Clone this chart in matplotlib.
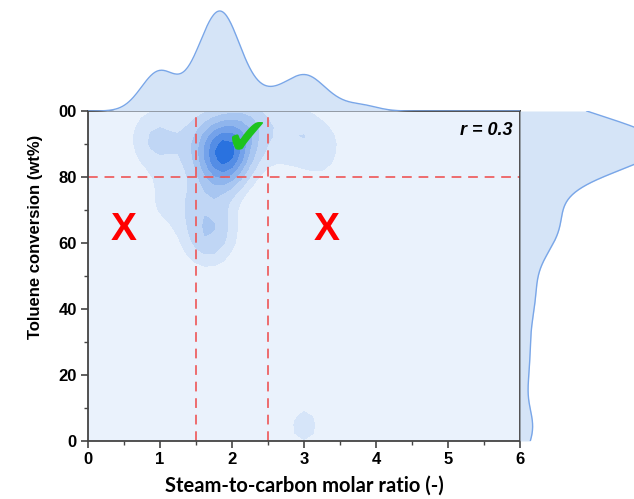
import matplotlib
matplotlib.use("Agg")
import matplotlib.pyplot as plt
import numpy as np

# measured runs: steam-to-carbon ratio vs toluene conversion
steam_ratio = [1.85, 1.9, 1.9, 1.9, 1.95, 1.88, 1.92, 1.9, 1.85, 1.95, 1.9,
               1.65, 1.7, 2.1, 2.15,
               1.65, 1.75, 1.8, 1.7, 1.55,
               0.8, 0.9, 1.0, 1.1, 1.15, 1.0, 0.9, 1.05,
               1.55, 1.5, 1.55,
               2.3, 2.25,
               3.0, 3.0, 2.75, 3.25, 3.4, 2.65, 3.1,
               3.0, 3.0,
               3.8, 2.6]
conversion = [82, 84, 85, 85, 86, 86, 87, 88, 88, 90, 91,
              93, 76, 95, 94,
              65, 62, 67, 59, 61,
              90, 96, 88, 92, 76, 70, 45, 30,
              88, 72, 98,
              97, 96,
              92, 93, 99, 82, 91, 86, 20,
              3, 5,
              40, 52]

x_ticks = [0, 1, 2, 3, 4, 5, 6]
y_ticks = [0, 20, 40, 60, 80, 100]
y_ticklabels = ["0", "20", "40", "60", "80", "00"]
r_text = "r = 0.3"

xs = np.array(steam_ratio, dtype=float)
ys = np.array(conversion, dtype=float)


def kde1d(pts, grid, h):
    d = (grid[:, None] - pts[None, :]) / h
    return np.exp(-0.5 * d ** 2).sum(axis=1) / (len(pts) * h * np.sqrt(2 * np.pi))


def kde2d(px, py, gx, gy, hx, hy):
    dx = (gx[..., None] - px) / hx
    dy = (gy[..., None] - py) / hy
    return np.exp(-0.5 * (dx ** 2 + dy ** 2)).sum(axis=-1) / (len(px) * hx * hy * 2 * np.pi)


W, H = 634, 499
fig = plt.figure(figsize=(W / 100, H / 100), dpi=100)
ax = fig.add_axes([88 / W, 58 / H, 432 / W, 330 / H])
ax_top = fig.add_axes([88 / W, 388 / H, 432 / W, 111 / H])
ax_right = fig.add_axes([520 / W, 58 / H, 150 / W, 330 / H])

# joint density
gx, gy = np.meshgrid(np.linspace(0, 6, 49), np.linspace(0, 100, 41))
z = kde2d(xs, ys, gx, gy, 0.25, 6.5)
z = z / z.max()
levels = [0.14, 0.25, 0.38, 0.51, 0.64, 0.77, 0.9, 1.01]
colors = ["#d6e5f9", "#c0d6f5", "#a8c6f1", "#8fb5ed", "#74a2ea", "#548de5", "#2a72df"]
ax.set_facecolor("#eaf2fc")
ax.contourf(gx, gy, z, levels=levels, colors=colors)

# threshold lines
dash = dict(color="#ee5555", lw=1.4, ls=(0, (5, 3.5)), alpha=0.85)
ax.axvline(1.5, **dash)
ax.axvline(2.5, **dash)
ax.axhline(80, **dash)

ax.text(0.49, 64, "X", color="red", fontsize=28, fontweight="bold",
        family="Liberation Sans", ha="center", va="center")
ax.text(3.32, 64, "X", color="red", fontsize=28, fontweight="bold",
        family="Liberation Sans", ha="center", va="center")
ax.text(2.2, 91, "\u2714", color="#1ec31e", fontsize=37, ha="center", va="center")
ax.text(5.9, 94, r_text, fontsize=13, fontweight="bold", style="italic",
        family="Liberation Sans", ha="right", va="center")

ax.set_xlim(0, 6)
ax.set_ylim(0, 100)
ax.set_xticks(x_ticks)
ax.set_yticks(y_ticks)
ax.set_yticklabels(y_ticklabels)
ax.set_xticks(np.arange(0.5, 6, 1), minor=True)
ax.set_yticks(np.arange(10, 100, 20), minor=True)
ax.tick_params(which="major", direction="out", length=5, width=1.2, color="#444444",
               labelsize=12, pad=3)
ax.tick_params(which="minor", direction="out", length=3, width=1.0, color="#444444")
for lab in ax.get_xticklabels() + ax.get_yticklabels():
    lab.set_fontweight("bold")
    lab.set_family("Liberation Sans")
for sp in ax.spines.values():
    sp.set_color("#444444")
    sp.set_linewidth(1.3)

ax.set_xlabel("Steam-to-carbon molar ratio (-)", fontsize=14.5, fontweight="bold",
              family="Lato", labelpad=6)
ax.set_ylabel("Toluene conversion (wt%)", fontsize=12, fontweight="bold",
              family="Liberation Sans")
ax.yaxis.set_label_coords(-0.105, 0.62)

# marginal densities
fill_c, edge_c = "#d5e4f7", "#79a6e8"
xg = np.linspace(0, 6, 400)
dx = kde1d(xs, xg, 0.22)
ax_top.fill_between(xg, 0, dx, color=fill_c, lw=0)
ax_top.plot(xg, dx, color=edge_c, lw=1)
ax_top.set_xlim(0, 6)
ax_top.set_ylim(0, dx.max() * 1.11)
ax_top.axis("off")

yg = np.linspace(0, 100, 400)
dy = kde1d(ys, yg, 6.5)
ax_right.fill_betweenx(yg, 0, dy, color=fill_c, lw=0)
ax_right.plot(dy, yg, color=edge_c, lw=1)
ax_right.set_ylim(0, 100)
ax_right.set_xlim(0, dy.max() * 150 / 140)
ax_right.axis("off")

fig.savefig("out.png", dpi=100)
